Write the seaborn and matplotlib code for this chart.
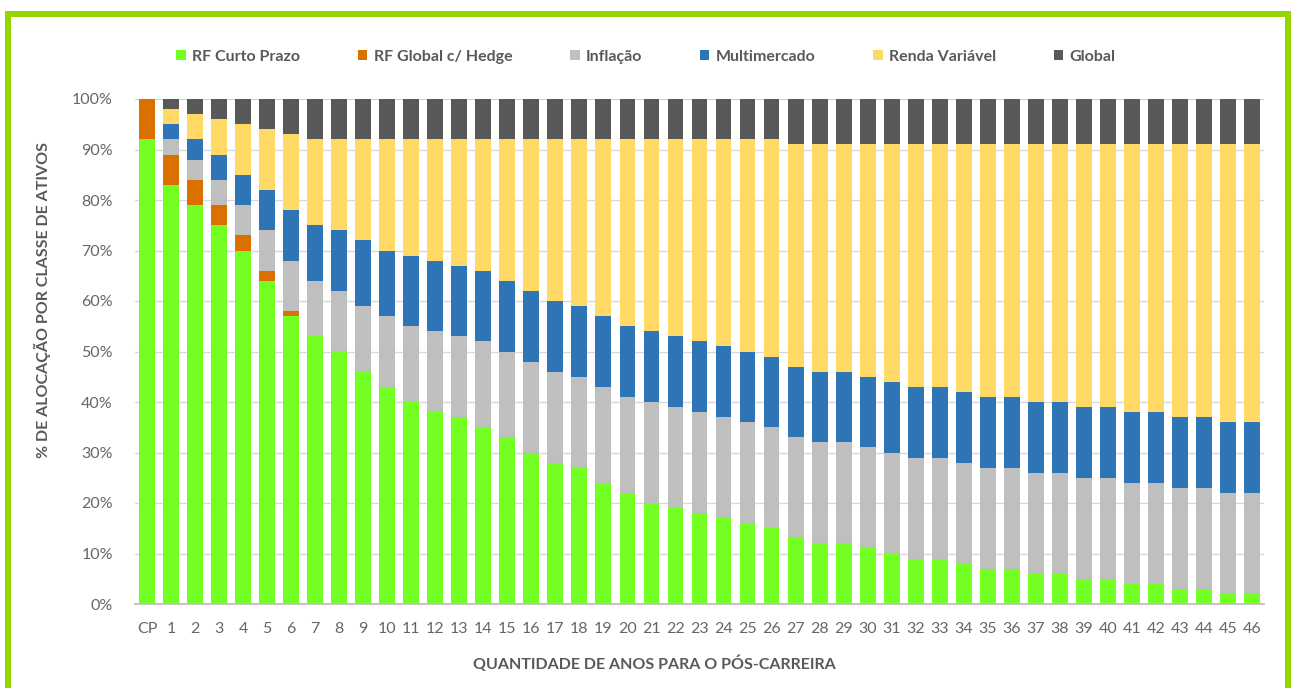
import numpy as np
import pandas as pd
import matplotlib.pyplot as plt
import seaborn as sns
from matplotlib.patches import Patch, Rectangle
from matplotlib.ticker import PercentFormatter

# Dados (% de alocação por classe de ativos)
anos = ['CP'] + [str(i) for i in range(1, 47)]

rf_curto_prazo = [92, 83, 79, 75, 70, 64, 57, 53, 50, 46, 43, 40, 38, 37, 35, 33,
                  30, 28, 27, 24, 22, 20, 19, 18, 17, 16, 15, 13, 12, 12, 11, 10,
                  9, 9, 8, 7, 7, 6, 6, 5, 5, 4, 4, 3, 3, 2, 2]
rf_global_hedge = [8, 6, 5, 4, 3, 2, 1] + [0] * 40
inflacao = [0, 3, 4, 5, 6, 8, 10, 11, 12, 13, 14, 15, 16, 16, 17, 17, 18, 18, 18,
            19, 19] + [20] * 26
multimercado = [0, 3, 4, 5, 6, 8, 10, 11, 12, 13, 13] + [14] * 36
renda_variavel = [0, 3, 5, 7, 10, 12, 15, 17, 18, 20, 22, 23, 24, 25, 26, 28, 30,
                  32, 33, 35, 37, 38, 39, 40, 41, 42, 43, 44, 45, 45, 46, 47, 48,
                  48, 49, 50, 50, 51, 51, 52, 52, 53, 53, 54, 54, 55, 55]
global_ = [0, 2, 3, 4, 5, 6, 7] + [8] * 20 + [9] * 20

classes = ['RF Curto Prazo', 'RF Global c/ Hedge', 'Inflação', 'Multimercado',
           'Renda Variável', 'Global']
cores = ['#73FF21', '#D97000', '#BFBFBF', '#2E75B6', '#FFD966', '#595959']
series = [rf_curto_prazo, rf_global_hedge, inflacao, multimercado,
          renda_variavel, global_]

# formato longo para o seaborn
linhas = []
for nome, vals in zip(classes, series):
    for pos, v in enumerate(vals):
        linhas.append({'pos': pos, 'classe': nome, 'valor': v})
df = pd.DataFrame(linhas)

sns.set_style('white')
plt.rcParams['font.family'] = ['Lato', 'DejaVu Sans']

texto = '#595959'

fig = plt.figure(figsize=(12.91, 6.88), dpi=100)
ax = fig.add_axes([135 / 1291, 1 - 604 / 688, 1129 / 1291, 505 / 688])

sns.histplot(data=df, x='pos', weights='valor', hue='classe',
             hue_order=classes[::-1], palette=dict(zip(classes, cores)),
             multiple='stack', discrete=True, shrink=0.66, alpha=1,
             linewidth=0, legend=False, ax=ax)

ax.set_xlim(-0.5, 46.5)
ax.set_ylim(0, 100)
ax.set_xticks(range(len(anos)))
ax.set_xticklabels(anos)
ax.set_yticks(range(0, 101, 10))
ax.yaxis.set_major_formatter(PercentFormatter(decimals=0))
ax.set_xlabel('')
ax.set_ylabel('')

ax.yaxis.grid(True, color='#D9D9D9', linewidth=1)
ax.set_axisbelow(True)
for s in ['left', 'top', 'right']:
    ax.spines[s].set_visible(False)
ax.spines['bottom'].set_color('#BFBFBF')
ax.spines['bottom'].set_linewidth(1.3)
ax.tick_params(axis='both', length=0, labelsize=11.5, labelcolor='#666666')
ax.tick_params(axis='x', pad=13)
ax.tick_params(axis='y', pad=16)

fig.text(42 / 1291, 1 - 300 / 688, '% DE ALOCAÇÃO POR CLASSE DE ATIVOS',
         rotation=90, ha='center', va='center', fontsize=11.5,
         fontweight='bold', color=texto)
fig.text(654 / 1291, 1 - 664 / 688, 'QUANTIDADE DE ANOS PARA O PÓS-CARREIRA',
         ha='center', va='center', fontsize=11.5, fontweight='bold', color=texto)

handles = [Patch(facecolor=c, edgecolor='none') for c in cores]
fig.legend(handles, classes, loc='center', bbox_to_anchor=(646 / 1291, 1 - 57 / 688),
           ncol=6, frameon=False, handlelength=0.6, handleheight=0.6,
           handletextpad=0.4, columnspacing=3.6,
           prop={'weight': 'bold', 'size': 11.5}, labelcolor=texto)

# moldura verde
fig.patches.append(Rectangle((8 / 1291, -0.1), 1280 / 1291, 1.1 - 14 / 688,
                             transform=fig.transFigure, fill=False,
                             edgecolor='#96D600', linewidth=4.3))

fig.savefig('out.png', dpi=100)
